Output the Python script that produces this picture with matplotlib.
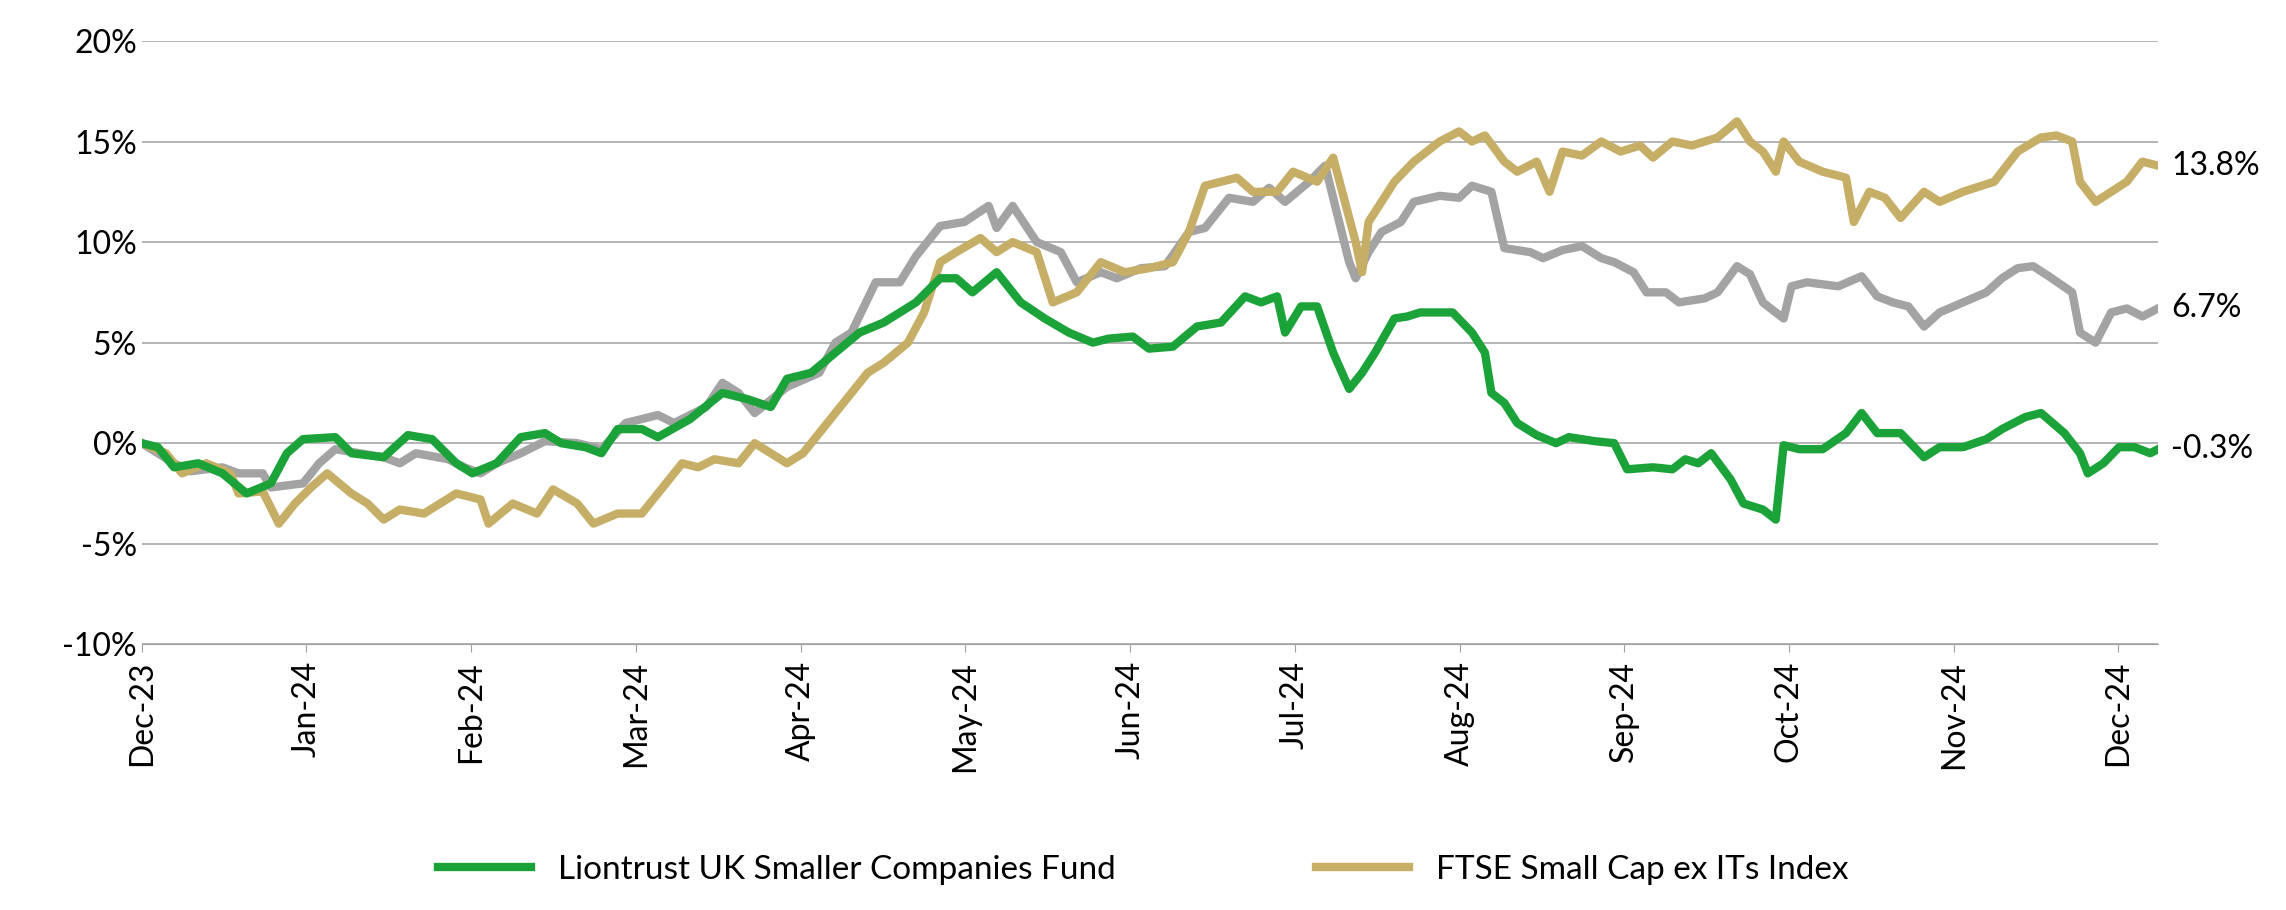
import matplotlib
matplotlib.use("Agg")
import matplotlib.pyplot as plt
import numpy as np
from matplotlib.ticker import FuncFormatter

MONTHS = ["Dec-23", "Jan-24", "Feb-24", "Mar-24", "Apr-24", "May-24", "Jun-24",
          "Jul-24", "Aug-24", "Sep-24", "Oct-24", "Nov-24", "Dec-24"]

# positions were read on a rough ruler; these anchors map ruler units onto month ticks
RULER = [0.0, 5.3, 7.5, 10.8, 13.25]
MONTH_POS = [0.0, 5.19, 7.33, 9.92, 12.24]

FUND_X = [0.0, 0.1, 0.2, 0.35, 0.5, 0.65, 0.8, 0.9, 1.0, 1.2, 1.3, 1.5, 1.65, 1.8, 1.95, 2.05, 2.2, 2.35, 2.5, 2.6,
          2.75, 2.85, 2.95, 3.1, 3.2, 3.4, 3.6, 3.75, 3.9, 4.0, 4.15, 4.3, 4.45, 4.6, 4.8, 4.95, 5.05, 5.15, 5.3, 5.45,
          5.6, 5.75, 5.9, 6.0, 6.15, 6.25, 6.4, 6.55, 6.7, 6.85, 6.95, 7.05, 7.1, 7.2, 7.3, 7.4, 7.5, 7.6, 7.7, 7.85,
          7.95, 8.05, 8.15, 8.3, 8.45, 8.55, 8.6, 8.7, 8.8, 8.95, 9.1, 9.2, 9.4, 9.55, 9.65, 9.85, 10.0, 10.1, 10.2,
          10.3, 10.45, 10.55, 10.7, 10.8, 10.85, 10.95, 11.1, 11.25, 11.35, 11.45, 11.6, 11.75, 11.85, 12.0, 12.15,
          12.25, 12.4, 12.5, 12.65, 12.75, 12.8, 12.9, 13.0, 13.1, 13.2, 13.25]
FUND_Y = [0, -0.2, -1.2, -1.0, -1.5, -2.5, -2.0, -0.5, 0.2, 0.3, -0.5, -0.7, 0.4, 0.2, -1.0, -1.5, -1.0, 0.3, 0.5, 0.0,
          -0.2, -0.5, 0.7, 0.7, 0.3, 1.2, 2.5, 2.2, 1.8, 3.2, 3.5, 4.5, 5.5, 6.0, 7.0, 8.2, 8.2, 7.5, 8.5, 7.0,
          6.2, 5.5, 5.0, 5.2, 5.3, 4.7, 4.8, 5.8, 6.0, 7.3, 7.0, 7.3, 5.5, 6.8, 6.8, 4.5, 2.7, 3.5, 4.5, 6.2,
          6.3, 6.5, 6.5, 6.5, 5.5, 4.5, 2.5, 2.0, 1.0, 0.4, 0.0, 0.3, 0.1, 0.0, -1.3, -1.2, -1.3, -0.8, -1.0,
          -0.5, -1.8, -3.0, -3.3, -3.8, -0.1, -0.3, -0.3, 0.5, 1.5, 0.5, 0.5, -0.7, -0.2, -0.2, 0.2,
          0.7, 1.3, 1.5, 0.5, -0.5, -1.5, -1.0, -0.2, -0.2, -0.5, -0.3]

SECTOR_X = [0, 0.2, 0.3, 0.5, 0.6, 0.75, 0.8, 1.0, 1.1, 1.2, 1.35, 1.5, 1.6, 1.7, 1.9, 2.0, 2.1, 2.2, 2.35, 2.5,
            2.7, 2.85, 3.0, 3.2, 3.3, 3.5, 3.6, 3.7, 3.8, 4.0, 4.2, 4.3, 4.4, 4.55, 4.7, 4.8, 4.95, 5.1, 5.25, 5.3,
            5.4, 5.55, 5.7, 5.8, 5.95, 6.05, 6.2, 6.35, 6.5, 6.6, 6.75, 6.9, 7.0, 7.1, 7.25, 7.35, 7.5, 7.55, 7.65,
            7.75, 7.9, 8.0, 8.2, 8.35, 8.45, 8.6, 8.7, 8.9, 9.0, 9.15, 9.3, 9.45, 9.55, 9.7, 9.8, 9.95, 10.05, 10.25,
            10.35, 10.5, 10.6, 10.7, 10.8, 10.85, 10.9, 11.0, 11.2, 11.35, 11.45, 11.55, 11.65, 11.75, 11.85, 12.0,
            12.15, 12.25, 12.35, 12.45, 12.55, 12.7, 12.75, 12.85, 12.95, 13.05, 13.15, 13.25]
SECTOR_Y = [0, -1.0, -1.4, -1.2, -1.5, -1.5, -2.2, -2.0, -1.0, -0.3, -0.5, -0.7, -1.0, -0.5, -0.8, -1.2, -1.5, -1.0,
            -0.5, 0.1, 0.0, -0.3, 1.0, 1.4, 1.0, 1.8, 3.0, 2.5, 1.5, 2.8, 3.5, 5.0, 5.5, 8.0, 8.0, 9.3, 10.8, 11.0,
            11.8, 10.7, 11.8, 10.0, 9.5, 8.0, 8.5, 8.2, 8.7, 8.8, 10.5, 10.7, 12.2, 12.0, 12.7, 12.0, 13.0, 13.8,
            9.0, 8.2, 9.5, 10.5, 11.0, 12.0, 12.3, 12.2, 12.8, 12.5, 9.7, 9.5, 9.2, 9.6, 9.8, 9.2, 9.0, 8.5, 7.5,
            7.5, 7.0, 7.2, 7.5, 8.8, 8.4, 7.0, 6.5, 6.2, 7.8, 8.0, 7.8, 8.3, 7.3, 7.0, 6.8, 5.8, 6.5, 7.0, 7.5,
            8.2, 8.7, 8.8, 8.3, 7.5, 5.5, 5.0, 6.5, 6.7, 6.3, 6.7]

INDEX_X = [0, 0.15, 0.25, 0.4, 0.55, 0.6, 0.75, 0.85, 0.95, 1.05, 1.15, 1.3, 1.4, 1.5, 1.6, 1.75, 1.85, 1.95, 2.1,
           2.15, 2.3, 2.45, 2.55, 2.7, 2.8, 2.95, 3.1, 3.2, 3.35, 3.45, 3.55, 3.7, 3.8, 3.9, 4.0, 4.1, 4.2, 4.35,
           4.5, 4.6, 4.75, 4.85, 4.95, 5.05, 5.2, 5.3, 5.4, 5.55, 5.65, 5.8, 5.95, 6.1, 6.25, 6.4, 6.5, 6.6, 6.8,
           6.9, 7.05, 7.15, 7.3, 7.4, 7.55, 7.6, 7.65, 7.75, 7.85, 8.0, 8.2, 8.35, 8.45, 8.55, 8.7, 8.8, 8.95, 9.05,
           9.15, 9.3, 9.45, 9.6, 9.75, 9.85, 10.0, 10.15, 10.35, 10.5, 10.6, 10.7, 10.8, 10.85, 10.95, 11.1, 11.25,
           11.3, 11.4, 11.5, 11.6, 11.75, 11.85, 12.0, 12.2, 12.35, 12.5, 12.6, 12.7, 12.75, 12.85, 12.95, 13.05,
           13.15, 13.25]
INDEX_Y = [0, -0.5, -1.5, -1.0, -1.5, -2.5, -2.4, -4.0, -3.0, -2.2, -1.5, -2.5, -3.0, -3.8, -3.3, -3.5, -3.0, -2.5,
           -2.8, -4.0, -3.0, -3.5, -2.3, -3.0, -4.0, -3.5, -3.5, -2.5, -1.0, -1.2, -0.8, -1.0, 0.0, -0.5, -1.0,
           -0.5, 0.5, 2.0, 3.5, 4.0, 5.0, 6.5, 9.0, 9.5, 10.2, 9.5, 10.0, 9.5, 7.0, 7.5, 9.0, 8.5, 8.7, 9.0, 10.5,
           12.8, 13.2, 12.5, 12.5, 13.5, 13.0, 14.2, 10.0, 8.5, 11.0, 12.0, 13.0, 14.0, 15.0, 15.5, 15.0, 15.3,
           14.0, 13.5, 14.0, 12.5, 14.5, 14.3, 15.0, 14.5, 14.8, 14.2, 15.0, 14.8, 15.2, 16.0, 15.0, 14.5, 13.5,
           15.0, 14.0, 13.5, 13.2, 11.0, 12.5, 12.2, 11.2, 12.5, 12.0, 12.5, 13.0, 14.5, 15.2, 15.3, 15.0, 13.0,
           12.0, 12.5, 13.0, 14.0, 13.8]

GREEN = "#1BA33A"
GOLD = "#C6AE66"
GREY = "#A3A3A3"


def to_months(xs):
    return np.interp(xs, RULER, MONTH_POS)


plt.rcParams["font.family"] = "Lato"
fig = plt.figure(figsize=(22.86, 9.1), dpi=100)
ax = fig.add_axes([0.062, 0.292, 0.882, 0.663])

ax.plot(to_months(SECTOR_X), SECTOR_Y, color=GREY, linewidth=6, zorder=3)
ax.plot(to_months(INDEX_X), INDEX_Y, color=GOLD, linewidth=6, zorder=4, label="FTSE Small Cap ex ITs Index")
ax.plot(to_months(FUND_X), FUND_Y, color=GREEN, linewidth=6, zorder=5, label="Liontrust UK Smaller Companies Fund")

for xs, ys in [(INDEX_X, INDEX_Y), (SECTOR_X, SECTOR_Y), (FUND_X, FUND_Y)]:
    ax.text(to_months(xs[-1]) + 0.08, ys[-1], f"{ys[-1]:.1f}%", fontsize=23, va="center", ha="left")

ax.set_xlim(0, 12.24)
ax.set_ylim(-10, 20)
ax.set_yticks(range(-10, 21, 5))
ax.yaxis.set_major_formatter(FuncFormatter(lambda v, p: f"{v:.0f}%"))
ax.set_xticks(range(len(MONTHS)))
ax.set_xticklabels(MONTHS, rotation=90)
ax.tick_params(axis="both", labelsize=23, length=0)
ax.tick_params(axis="x", length=6, color="#A0A0A0", pad=6)
ax.grid(axis="y", color="#A8A8A8", linewidth=1.2)
for s in ["top", "right", "left"]:
    ax.spines[s].set_visible(False)
ax.spines["bottom"].set_color("#A0A0A0")

handles, labels = ax.get_legend_handles_labels()
fig.legend(handles[::-1], labels[::-1], loc="lower center", ncol=2, fontsize=24, frameon=False,
           bbox_to_anchor=(0.5, -0.005), handlelength=2.8, columnspacing=6)

fig.savefig("out.png", dpi=100)
